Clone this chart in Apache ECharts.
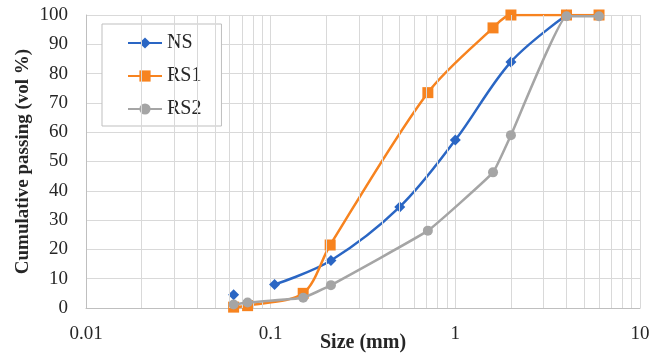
<!DOCTYPE html>
<html>
<head>
<meta charset="utf-8">
<script src="https://cdn.jsdelivr.net/npm/echarts@6/dist/echarts.min.js"></script>
<style>
  html, body { margin: 0; padding: 0; background: #fff; }
  #chart-container { width: 665px; height: 356px; }
</style>
</head>
<body>
<div id="chart-container"></div>
<script>
// values
const xTicks = [0.01, 0.1, 1, 10];

const nsSize = [0.063, 0.08, 0.105, 0.212, 0.5, 1, 2, 4];
const nsPassing = [4.5, null, 8, 16.2, 34.5, 57.3, 84, 100];

const rs1Size = [0.063, 0.075, 0.15, 0.21, 0.71, 1.6, 2, 4, 6];
const rs1Passing = [0.3, 0.8, 5, 21.5, 73.5, 95.6, 100, 100, 100];

const rs2Size = [0.063, 0.075, 0.15, 0.212, 0.71, 1.6, 2, 4, 6];
const rs2Passing = [1.2, 1.9, 3.5, 7.8, 26.4, 46.3, 59, 99.6, 99.6];

const font = "'Liberation Serif', 'Times New Roman', serif";
const gridColor = "#d9d9d9";

// log minor grid at 2..9 of each decade
const minorLines = [];
[0.01, 0.1, 1].forEach((d) => {
  for (let k = 2; k <= 9; k++) minorLines.push({ xAxis: +(k * d).toFixed(3) });
});

function pairs(xs, ys) {
  return xs.map((x, i) => [x, ys[i]]);
}

var chartDom = document.getElementById("chart-container");
var myChart = echarts.init(chartDom, null, { renderer: "canvas" });

var option = {
  animation: false,
  backgroundColor: "#fff",
  textStyle: { fontFamily: font },
  grid: { left: 86, right: 25, top: 15, bottom: 48, containLabel: false, outerBoundsMode: "none" },
  legend: {
    orient: "vertical",
    left: 102,
    top: 24,
    padding: [8, 20, 6, 25],
    itemGap: 11,
    itemWidth: 34,
    itemHeight: 14,
    borderColor: "#bfbfbf",
    borderWidth: 1,
    backgroundColor: "#fff",
    textStyle: { fontFamily: font, fontSize: 20, color: "#262626", lineHeight: 22 },
    data: ["NS", "RS1", "RS2"],
  },
  xAxis: {
    type: "log",
    logBase: 10,
    min: 0.01,
    max: 10,
    name: "Size (mm)",
    nameLocation: "middle",
    nameGap: 25,
    nameMoveOverlap: false,
    nameTextStyle: { fontFamily: font, fontSize: 20, fontWeight: "bold", color: "#262626" },
    axisLine: { show: true, onZero: false, lineStyle: { color: "#bfbfbf" } },
    axisTick: { show: false },
    axisLabel: {
      fontFamily: font,
      fontSize: 19,
      color: "#262626",
      margin: 17,
      formatter: (v) => (xTicks.indexOf(+v) >= 0 ? String(+v) : ""),
    },
    splitLine: { show: true, lineStyle: { color: gridColor, width: 1 } },
  },
  yAxis: {
    type: "value",
    min: 0,
    max: 100,
    interval: 10,
    name: "Cumulative passing (vol %)",
    nameLocation: "middle",
    nameGap: 53,
    nameMoveOverlap: false,
    nameTextStyle: { fontFamily: font, fontSize: 19, fontWeight: "bold", color: "#262626" },
    axisLine: { show: true, lineStyle: { color: "#bfbfbf" } },
    axisTick: { show: false },
    axisLabel: { fontFamily: font, fontSize: 19, color: "#262626", margin: 18 },
    splitLine: { show: true, lineStyle: { color: gridColor, width: 1 } },
  },
  series: [
    {
      name: "__minor",
      type: "line",
      data: [],
      silent: true,
      z: 0,
      markLine: {
        silent: true,
        symbol: "none",
        label: { show: false },
        lineStyle: { color: gridColor, width: 1, type: "solid" },
        data: minorLines,
      },
    },
    {
      name: "NS",
      type: "line",
      data: pairs(nsSize, nsPassing),
      smooth: 0.35,
      connectNulls: false,
      symbol: "diamond",
      symbolSize: 11,
      color: "#2a66c4",
      lineStyle: { width: 2.5 },
      z: 3,
    },
    {
      name: "RS1",
      type: "line",
      data: pairs(rs1Size, rs1Passing),
      smooth: 0.3,
      symbol: "rect",
      symbolSize: 11,
      color: "#f7831f",
      lineStyle: { width: 2.5 },
      z: 4,
    },
    {
      name: "RS2",
      type: "line",
      data: pairs(rs2Size, rs2Passing),
      smooth: 0.1,
      symbol: "circle",
      symbolSize: 10,
      color: "#a5a5a5",
      lineStyle: { width: 2.5 },
      z: 5,
    },
  ],
};

myChart.setOption(option);
</script>
</body>
</html>
